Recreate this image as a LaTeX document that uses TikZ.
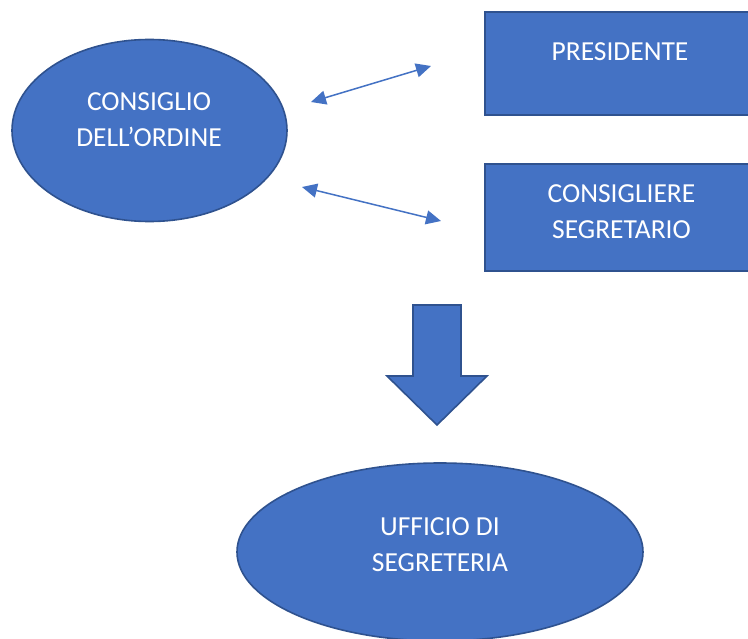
\documentclass[tikz,border=0pt]{standalone}
\usepackage{fontspec}
\setmainfont{Carlito}
\usetikzlibrary{shapes.geometric,arrows.meta}
\definecolor{fillblue}{HTML}{4472C4}
\definecolor{edgeblue}{HTML}{2F528F}
\tikzset{
  shapebox/.style={fill=fillblue,draw=edgeblue,line width=1.6pt,inner sep=0pt},
  oval/.style={shapebox,ellipse},
  rectbox/.style={shapebox,rectangle,anchor=north west},
  lbl/.style={text=white,align=center,font=\fontsize{27.5}{36}\selectfont,inner sep=0pt},
  link/.style={draw=fillblue,line width=1.5pt,{Triangle[length=15pt,width=14pt]}-{Triangle[length=15pt,width=14pt]}}
}
\begin{document}
\begin{tikzpicture}[x=1pt,y=-1pt]
\clip (0,0) rectangle (748,639);
\fill[white] (0,0) rectangle (748,639);
% left ellipse
\node[oval,minimum width=275pt,minimum height=182pt] (cons) at (149.5,130.5) {};
\node[lbl] (consT) at (149,120) {CONSIGLIO\\DELL’ORDINE};
% rectangles
\node[rectbox,minimum width=272pt,minimum height=103pt] (pres) at (484,11) {};
\node[lbl] (presT) at (620,52) {PRESIDENTE};
\node[rectbox,minimum width=272pt,minimum height=107pt] (segr) at (484,163) {};
\node[lbl] (segrT) at (621.5,211.5) {CONSIGLIERE\\SEGRETARIO};
% double arrows
\coordinate (a1) at (311,102);
\coordinate (a2) at (431,66);
\coordinate (b1) at (302,187);
\coordinate (b2) at (441,221);
\draw[link] (a1) -- (a2);
\draw[link] (b1) -- (b2);
% block arrow
\draw[fill=fillblue,draw=edgeblue,line width=1.6pt,line join=miter]
  (413,305) -- (461,305) -- (461,376) -- (487,376) -- (437,425) -- (387,376) -- (413,376) -- cycle;
% bottom ellipse
\node[oval,minimum width=406pt,minimum height=178pt] (uff) at (440,552) {};
\node[lbl] (uffT) at (440,545) {UFFICIO DI\\SEGRETERIA};
\end{tikzpicture}
\end{document}
